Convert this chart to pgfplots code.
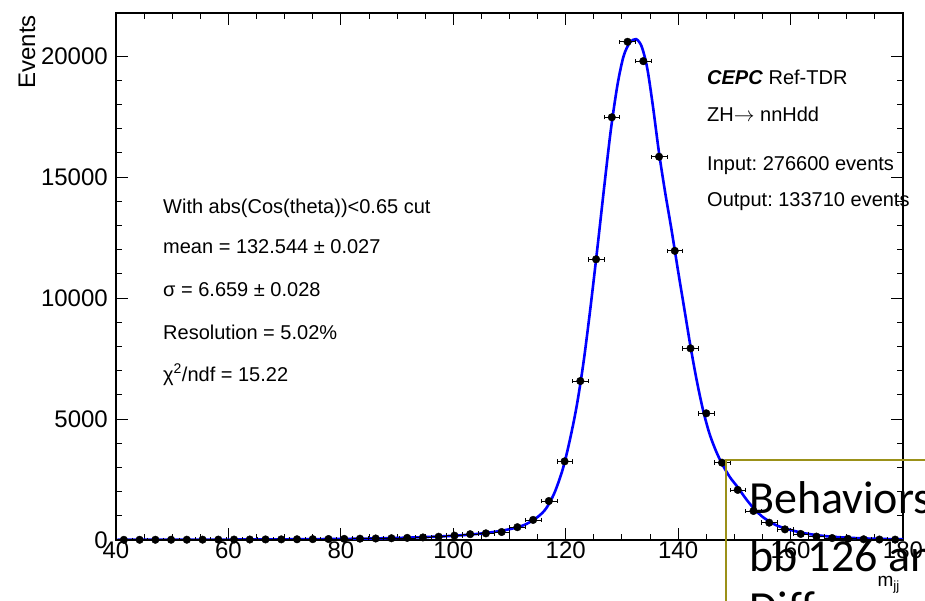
\documentclass[border=0pt]{standalone}
\usepackage{fontspec}
\setmainfont{Liberation Sans}
\newfontfamily\calibri{Carlito}
\usepackage{pgfplots}
\pgfplotsset{compat=1.18}
\usepackage{pgfplotstable}

\definecolor{olivebox}{RGB}{155,145,25}

% histogram: bin centre, entries (bin width 2.8)
\pgfplotstableread{
x y
41.4 8
44.2 9
47.0 10
49.8 11
52.6 12
55.4 14
58.2 16
61.0 18
63.8 20
66.6 23
69.4 26
72.2 30
75.0 35
77.8 40
80.6 46
83.4 54
86.2 62
89.0 72
91.8 88
94.6 105
97.4 135
100.2 180
103.0 240
105.8 275
108.6 330
111.4 530
114.2 830
117.0 1610
119.8 3250
122.6 6570
125.4 11600
128.2 17470
131.0 20590
133.8 19790
136.6 15840
139.4 11950
142.2 7920
145.0 5235
147.8 3195
150.6 2070
153.4 1200
156.2 715
159.0 440
161.8 250
164.6 140
167.4 80
170.2 50
173.0 30
175.8 20
178.6 15
}\histo

% fitted curve
\pgfplotstableread{
x y
40 8
50 12
60 18
70 28
80 45
85 60
90 85
95 120
100 175
104 245
108 360
111 500
113 660
115 950
116.5 1300
118 1950
119.5 2950
120.8 4200
122 5600
123.2 7400
124.4 9600
125.6 12000
126.8 14500
128 16900
129.2 18800
130.3 20000
131.4 20550
132.5 20700
133.5 20400
134.5 19500
135.5 17950
136.6 16000
137.7 14350
138.8 12850
140 11100
141.1 9550
142.2 8000
143.3 6600
144.4 5400
145.5 4450
146.6 3750
147.8 3150
149.2 2600
150.6 2180
152 1720
153.4 1320
155 960
157 660
159 480
162 300
165 190
168 125
172 75
176 45
180 30
}\fitcurve

\begin{document}
\frenchspacing
\begin{tikzpicture}[x=1pt,y=1pt]
\path[use as bounding box] (0,0) rectangle (925,601);
\begin{scope}
\clip (0,0) rectangle (925,601);
\begin{axis}[
  at={(116pt,61pt)}, anchor=south west,
  width=787pt, height=527pt, scale only axis,
  xmin=40, xmax=180, ymin=0, ymax=21780,
  xtick={40,60,...,180}, minor x tick num=3,
  ytick={0,5000,...,20000}, minor y tick num=4,
  scaled y ticks=false,
  tick pos=both, ticklabel pos=left, tick align=inside,
  /pgf/number format/1000 sep={},
  /pgf/number format/assume math mode=true,
  ticklabel style={font=\fontsize{24}{28}\selectfont, inner sep=0pt},
  xticklabel style={anchor=north, yshift=-2pt},
  yticklabel style={anchor=east, xshift=-8pt},
  major tick length=12pt, minor tick length=6pt,
  tick style={black, line width=0.9pt},
  axis line style={black, line width=1.3pt},
]
\addplot[blue, line width=2.6pt, smooth, no marks] table[x=x, y=y] {\fitcurve};
\addplot[only marks, mark=*, mark size=3.8pt, black,
  error bars/.cd, x dir=both, x fixed=1.4,
  error bar style={black, line width=0.7pt},
  error mark options={black, mark size=2.2pt, rotate=90}]
  table[x=x, y=y] {\histo};
\end{axis}

% statistics box (left)
\begin{scope}[every node/.style={anchor=base west, inner sep=0pt, font=\fontsize{20}{24}\selectfont}]
\node at (163,387.5) {With abs(Cos(theta))<0.65 cut};
\node at (163,347.5) {mean = 132.544 ± 0.027};
\node at (163,304.5) {σ = 6.659 ± 0.028};
\node at (163,261.5) {Resolution = 5.02\%};
\node at (163,219.5) {χ\textsuperscript{2}/ndf = 15.22};
% labels (right)
\node at (707,516) {\textbf{\textit{CEPC}} Ref-TDR};
\node at (707,479.3) {ZH$\rightarrow$ nnHdd};
\node at (707,430.3) {Input: 276600 events};
\node at (707,394.3) {Output: 133710 events};
\end{scope}

% axis titles
\node[rotate=90, anchor=base east, inner sep=0pt, font=\fontsize{24}{28}\selectfont] at (35,586) {Events};
\node[anchor=base east, inner sep=0pt, font=\fontsize{19}{23}\selectfont] at (900,14) {m\textsubscript{jj}};

% overlapping slide text box
\draw[olivebox, line width=2pt] (726,141) rectangle (1000,-60);
\begin{scope}[every node/.style={anchor=base west, inner sep=0pt, font=\calibri\fontsize{46}{57}\selectfont}]
\node at (749,87) {Behaviors};
\node at (749,29.3) {bb 126 and};
\node at (749,-23) {Diff};
\end{scope}
\end{scope}
\end{tikzpicture}
\end{document}
